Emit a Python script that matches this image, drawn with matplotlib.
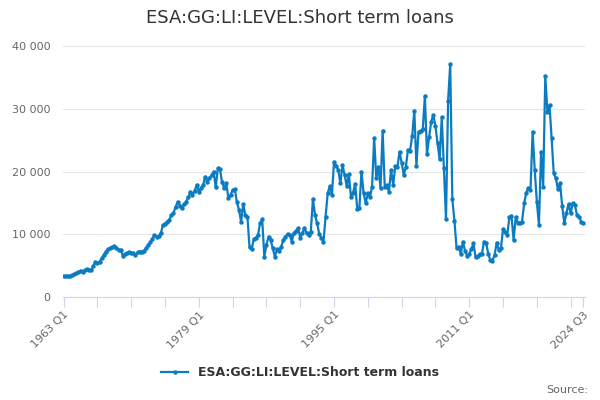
import matplotlib
matplotlib.use("Agg")
import matplotlib.pyplot as plt
from matplotlib.ticker import FuncFormatter

# quarterly values, 1963 Q1 .. 2024 Q3
series_name = "ESA:GG:LI:LEVEL:Short term loans"
values = [
    3350, 3340, 3330, 3350, 3450, 3600, 3750, 3950, 4200, 3950,
    4250, 4400, 4250, 4300, 4900, 5600, 5350, 5600, 6150, 6700,
    7250, 7600, 7750, 7900, 8150, 7850, 7550, 7500, 6600, 6800,
    7000, 7200, 7050, 6950, 6700, 7100, 7250, 7250, 7400, 7750,
    8300, 8700, 9200, 9900, 9600, 9650, 10150, 11480, 11700, 12000,
    12300, 13050, 13340, 14390, 15190, 14500, 14140, 14800, 15190, 15900,
    16790, 16260, 16950, 17850, 16790, 17330, 17850, 19180, 18380, 18920,
    19400, 19980, 17490, 20520, 20360, 18300, 17330, 18130, 15730, 16260,
    17060, 17170, 15190, 13870, 12000, 14820, 13070, 12800, 7900, 7600,
    9200, 9450, 9880, 11750, 12380, 6420, 8290, 9610, 9090, 7760,
    6420, 7600, 7300, 8000, 9090, 9610, 10060, 9900, 8800, 10250,
    10500, 10950, 9450, 10150, 11000, 10150, 9880, 10420, 15570, 13070,
    11750, 10040, 9450, 8800, 12800, 16530, 17690, 16260, 21570, 20880,
    20250, 18130, 21040, 19450, 17690, 19610, 15990, 16600, 18010, 13980,
    14250, 19980, 16530, 14930, 16600, 15870, 17580, 25300, 18920, 20770,
    17330, 26510, 17580, 17850, 16790, 20250, 17850, 20880, 20670, 23160,
    21410, 19450, 20770, 23430, 23330, 25660, 29700, 20880, 26350, 26510,
    26720, 32040, 22800, 25460, 27950, 29010, 27260, 24500, 21950, 28640,
    20510, 12390, 31290, 37140, 15570, 12160, 7760, 8020, 6850, 8820,
    7380, 6540, 6850, 7600, 8560, 6330, 6540, 6850, 6850, 8820,
    8660, 6850, 5900, 5790, 6700, 8660, 7490, 7800, 10790, 10420,
    9880, 12700, 12960, 9090, 12700, 11850, 11850, 12000, 14930, 16630,
    17330, 17060, 26350, 20250, 15190, 11480, 23160, 17580, 35230, 29540,
    30600, 25300, 19720, 18920, 17170, 18130, 14500, 11750, 13340, 14820,
    13340, 14930, 14660, 13070, 12800, 12000, 11850,
]
quarters = [f"{1963 + i // 4} Q{i % 4 + 1}" for i in range(len(values))]

tick_pos = list(range(0, len(values) - 1, 16)) + [len(values) - 1]
label_every = [0, 64, 128, 192, len(values) - 1]
y_ticks = [0, 10000, 20000, 30000, 40000]

blue = "#0b7cc1"

fig = plt.figure(figsize=(6, 4), dpi=100)
ax = fig.add_axes([63 / 600, 1 - 297 / 400, 522 / 600, 251 / 400])

x = list(range(len(values)))
ax.plot(x, values, color=blue, lw=1.6, marker="o", ms=3.2, mew=0,
        label=series_name, zorder=3)

ax.set_xlim(-0.3, len(values) - 0.2)
ax.set_ylim(0, 40000)

ax.set_yticks(y_ticks)
ax.yaxis.set_major_formatter(FuncFormatter(lambda v, p: f"{int(v):,}".replace(",", " ")))
ax.grid(axis="y", color="#e6e6e6", lw=0.8)
ax.set_axisbelow(True)
ax.tick_params(axis="y", length=0, pad=9, labelsize=8, labelcolor="#666666")

ax.set_xticks(tick_pos)
ax.set_xticklabels([quarters[i] if i in label_every else "" for i in tick_pos])
ax.tick_params(axis="x", length=7, width=0.8, color="#ccd6eb", labelsize=8,
               labelcolor="#666666", pad=2)
for lbl in ax.get_xticklabels():
    lbl.set_rotation(45)
    lbl.set_ha("right")
    lbl.set_rotation_mode("anchor")

for side in ["top", "right", "left"]:
    ax.spines[side].set_visible(False)
ax.spines["bottom"].set_color("#ccd6eb")
ax.spines["bottom"].set_linewidth(0.8)

fig.text(0.5, 1 - 18 / 400, series_name, ha="center", va="center",
         fontsize=13, color="#333333")

leg = fig.legend(loc="center", bbox_to_anchor=(0.5, 1 - 373 / 400), frameon=False,
                 handlelength=2.2, prop={"size": 9, "weight": "bold"})
for t in leg.get_texts():
    t.set_color("#333333")

fig.text(588 / 600, 1 - 390 / 400, "Source:", ha="right", va="center",
         fontsize=8, color="#666666")

fig.savefig("out.png", dpi=100)
